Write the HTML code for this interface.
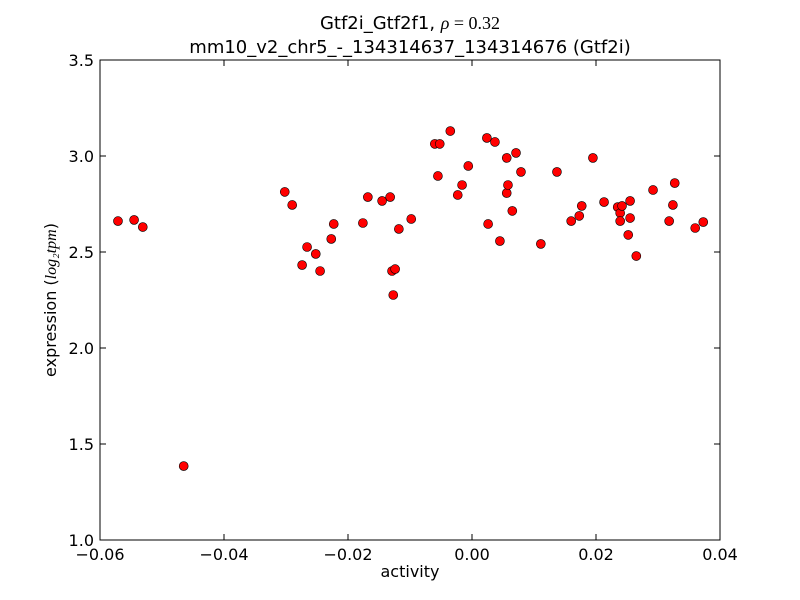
<!DOCTYPE html>
<html><head><meta charset="utf-8"><style>
body{margin:0;background:#fff}
svg{display:block}
text{font-family:"DejaVu Sans","Liberation Sans",sans-serif;fill:#000}
</style></head><body>
<svg id="chart" width="800" height="600" viewBox="0 0 800 600">
<rect width="800" height="600" fill="#fff"/>
<text x="410" y="29" font-size="18" text-anchor="middle">Gtf2i_Gtf2f1, <tspan font-family="Liberation Serif,serif" font-style="italic">ρ</tspan><tspan font-family="Liberation Serif,serif"> = 0.32</tspan></text>
<text x="410" y="53" font-size="18" text-anchor="middle">mm10_v2_chr5_-_134314637_134314676 (Gtf2i)</text>
<g id="ticks"></g>
<g id="points"></g>
<rect x="100" y="60" width="620" height="480" fill="none" stroke="#000" stroke-width="1"/>
<text x="410" y="577" font-size="16" text-anchor="middle">activity</text>
<text transform="translate(56,300) rotate(-90)" font-size="16" text-anchor="middle">expression (<tspan font-family="Liberation Serif,serif" font-style="italic">log₂tpm</tspan>)</text>
</svg>
<script>
const xVals=[-0.0571,-0.0545,-0.0531,-0.0465,-0.0302,-0.0290,-0.0266,-0.0274,-0.0252,-0.0245,-0.0227,-0.0223,-0.0176,-0.0168,-0.0145,-0.0132,-0.0129,-0.0124,-0.0127,-0.0118,-0.0098,-0.0060,-0.0052,-0.0055,-0.0035,-0.0023,-0.0016,-0.0006,0.0024,0.0026,0.0037,0.0045,0.0056,0.0056,0.0058,0.0065,0.0071,0.0079,0.0111,0.0137,0.0160,0.0173,0.0177,0.0195,0.0213,0.0235,0.0239,0.0239,0.0242,0.0252,0.0255,0.0255,0.0265,0.0292,0.0318,0.0324,0.0327,0.0360,0.0373];
const yVals=[2.661,2.667,2.630,1.385,2.813,2.745,2.526,2.432,2.490,2.401,2.568,2.646,2.651,2.786,2.766,2.786,2.401,2.411,2.276,2.620,2.672,3.063,3.063,2.896,3.130,2.797,2.849,2.948,3.094,2.646,3.073,2.557,2.990,2.807,2.849,2.714,3.016,2.917,2.542,2.917,2.661,2.688,2.740,2.990,2.760,2.734,2.703,2.661,2.740,2.589,2.677,2.766,2.479,2.823,2.661,2.745,2.859,2.625,2.656];
const xTicks=[-0.06,-0.04,-0.02,0.00,0.02,0.04];
const xTickLabels=["\u22120.06","\u22120.04","\u22120.02","0.00","0.02","0.04"];
const yTicks=[1.0,1.5,2.0,2.5,3.0,3.5];
const yTickLabels=["1.0","1.5","2.0","2.5","3.0","3.5"];
const X0=100,X1=720,Y0=540,Y1=60,xmin=-0.06,xmax=0.04,ymin=1.0,ymax=3.5;
const sx=v=>X0+(v-xmin)/(xmax-xmin)*(X1-X0);
const sy=v=>Y0-(v-ymin)/(ymax-ymin)*(Y0-Y1);
const NS="http://www.w3.org/2000/svg";
const tg=document.getElementById('ticks'),pg=document.getElementById('points');
function mk(tag,attrs,parent){const e=document.createElementNS(NS,tag);for(const k in attrs)e.setAttribute(k,attrs[k]);parent.appendChild(e);return e;}
xTicks.forEach((t,i)=>{const x=sx(t);
 const a=mk('line',{x1:x,x2:x,y1:Y0,y2:Y0-6,stroke:'#000'},tg);
 
 
 const b=mk('line',{x1:x,x2:x,y1:Y1,y2:Y1+6,stroke:'#000'},tg);
 
 
 const l=mk('text',{x:x,y:Y0+20,'font-size':16,'text-anchor':'middle'},tg);l.textContent=xTickLabels[i];
 
 
});
yTicks.forEach((t,i)=>{const y=sy(t);
 const a=mk('line',{x1:X0,x2:X0+6,y1:y,y2:y,stroke:'#000'},tg);
 
 
 const b=mk('line',{x1:X1,x2:X1-6,y1:y,y2:y,stroke:'#000'},tg);
 
 
 const l=mk('text',{x:X0-6,y:y+6,'font-size':16,'text-anchor':'end'},tg);l.textContent=yTickLabels[i];
 
 
});
xVals.forEach((v,i)=>{
 const c=mk('circle',{cx:sx(v),cy:sy(yVals[i]),r:4.5,fill:'#ff0000',stroke:'#000','stroke-width':0.6},pg);
 
 
});
</script>
</body></html>
